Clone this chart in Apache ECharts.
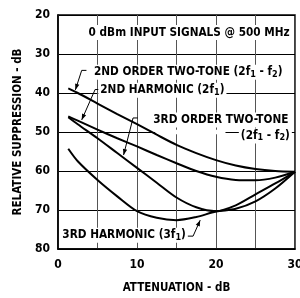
<!DOCTYPE html>
<html>
<head>
<meta charset="utf-8">
<script src="https://cdn.jsdelivr.net/npm/echarts@6/dist/echarts.min.js"></script>
<style>
html, body { margin: 0; padding: 0; background: #fff; }
#chart { width: 300px; height: 298px; }
</style>
</head>
<body>
<div id="chart"></div>
<script>
// attenuation (dB) sample points shared by the four curves
const atten = [1.3, 2.5, 5, 7.5, 10, 12.5, 15, 17.5, 20, 22.5, 25, 27.5, 30];
// relative suppression (dB)
const order2TwoTone = [38.8, 40.0, 42.7, 45.4, 48.0, 50.7, 53.3, 55.4, 57.2, 58.6, 59.5, 60.0, 60.2];
const harmonic2     = [46.0, 47.1, 49.4, 51.6, 53.7, 55.9, 58.0, 60.0, 61.5, 62.3, 62.4, 61.7, 60.2];
const order3TwoTone = [46.2, 48.0, 51.6, 55.4, 59.2, 63.0, 66.8, 69.3, 70.3, 68.8, 66.0, 63.2, 60.2];
const harmonic3     = [54.3, 57.5, 62.3, 66.5, 70.3, 72.0, 72.6, 71.8, 70.4, 69.7, 67.8, 64.5, 60.2];
const xTicks = [0, 10, 20, 30];

// annotation leaders, in data units [atten, dB]; last point gets the arrow
const leaders = [
  [[3.6, 34.2], [3.0, 34.2], [2.2, 39.2]],
  [[5.2, 39.1], [4.7, 39.1], [3.0, 46.9]],
  [[10.1, 46.4], [9.5, 46.4], [8.3, 55.9]],
  [[16.3, 76.7], [17.1, 76.7], [18.0, 72.6]]
];

const FONT = '"DejaVu Sans Condensed", "Liberation Sans Narrow", "Liberation Sans", sans-serif';

function pairs(ys) {
  return atten.map((x, i) => [x, ys[i]]);
}

function curve(name, ys) {
  return {
    name: name,
    type: 'line',
    data: pairs(ys),
    smooth: 0.3,
    showSymbol: false,
    symbol: 'none',
    silent: true,
    animation: false,
    lineStyle: { color: '#000', width: 2 },
    z: 2
  };
}

const chart = echarts.init(document.getElementById('chart'), null, { renderer: 'canvas' });

chart.setOption({
  backgroundColor: '#fff',
  animation: false,
  grid: {
    left: 58, right: 5, top: 15, bottom: 49,
    containLabel: false,
    outerBoundsMode: 'none',
    show: true,
    borderColor: '#000',
    borderWidth: 1.5
  },
  xAxis: {
    type: 'value',
    min: 0, max: 30, interval: 5,
    name: 'ATTENUATION - dB',
    nameLocation: 'middle',
    nameGap: 33,
    nameTextStyle: { color: '#000', fontFamily: FONT, fontWeight: 'bold', fontSize: 11.5 },
    axisLine: { show: true, lineStyle: { color: '#000', width: 1.5 } },
    axisTick: { show: false },
    axisLabel: {
      color: '#000', fontFamily: FONT, fontWeight: 'bold', fontSize: 12, margin: 10,
      formatter: v => (xTicks.indexOf(v) >= 0 ? String(v) : '')
    },
    splitLine: { show: true, lineStyle: { color: '#555', width: 1 } }
  },
  yAxis: {
    type: 'value',
    inverse: true,
    min: 20, max: 80, interval: 10,
    name: 'RELATIVE SUPPRESSION - dB',
    nameLocation: 'middle',
    nameRotate: 90,
    nameGap: 32,
    nameTextStyle: { color: '#000', fontFamily: FONT, fontWeight: 'bold', fontSize: 11.5 },
    axisLine: { show: true, lineStyle: { color: '#000', width: 1.5 } },
    axisTick: { show: false },
    axisLabel: { color: '#000', fontFamily: FONT, fontWeight: 'bold', fontSize: 12, margin: 8 },
    splitLine: { show: true, lineStyle: { color: '#000', width: 1 } }
  },
  series: [
    curve('2ND ORDER TWO-TONE', order2TwoTone),
    curve('2ND HARMONIC', harmonic2),
    curve('3RD ORDER TWO-TONE', order3TwoTone),
    curve('3RD HARMONIC', harmonic3)
  ]
});

// ---- annotations (placed through the grid's coordinate system) ----
const px = p => chart.convertToPixel({ gridIndex: 0 }, p);

const rich = {
  t: { fontFamily: FONT, fontWeight: 'bold', fontSize: 11.7, lineHeight: 13, fill: '#000' },
  s: { fontFamily: FONT, fontWeight: 'bold', fontSize: 9, lineHeight: 5, verticalAlign: 'bottom', fill: '#000' }
};

function label(text, at, align) {
  const p = px(at);
  return {
    type: 'text',
    x: p[0], y: p[1],
    z: 5,
    style: {
      text: text,
      rich: rich,
      align: align || 'left',
      verticalAlign: 'middle',
      backgroundColor: '#fff',
      padding: [1, 2]
    }
  };
}

function leader(pts) {
  const p = pts.map(px);
  const a = p[p.length - 2], b = p[p.length - 1];
  const dx = b[0] - a[0], dy = b[1] - a[1], L = Math.hypot(dx, dy);
  const ux = dx / L, uy = dy / L, len = 6, w = 2.2;
  const bx = b[0] - ux * len, by = b[1] - uy * len;
  return [
    { type: 'polyline', z: 4, shape: { points: p }, style: { stroke: '#000', lineWidth: 1, fill: null } },
    { type: 'polygon', z: 4, shape: { points: [b, [bx - uy * w, by + ux * w], [bx + uy * w, by - ux * w]] }, style: { fill: '#000' } }
  ];
}

const g = [];
// white patch where the 3rd order label interrupts the 50 dB grid line
const r0 = px([12.3, 49.4]), r1 = px([21.2, 50.6]);
g.push({ type: 'rect', z: 1, shape: { x: r0[0], y: r0[1], width: r1[0] - r0[0], height: r1[1] - r0[1] }, style: { fill: '#fff' } });
g.push(label('{t|0 dBm INPUT SIGNALS @ 500 MHz}', [16.6, 24.5], 'center'));
g.push(label('{t|2ND ORDER TWO-TONE (2f}{s|1}{t| - f}{s|2}{t|)}', [4.3, 34.7]));
g.push(label('{t|2ND HARMONIC (2f}{s|1}{t|)}', [5.1, 39.3]));
g.push(label('{t|3RD ORDER TWO-TONE}', [11.8, 46.9]));
g.push(label('{t|(2f}{s|1}{t| - f}{s|2}{t|)}', [29.6, 51.0], 'right'));
g.push(label('{t|3RD HARMONIC (3f}{s|1}{t|)}', [0.3, 76.5]));
leaders.forEach(l => g.push(...leader(l)));

chart.setOption({ graphic: g });
</script>
</body>
</html>
